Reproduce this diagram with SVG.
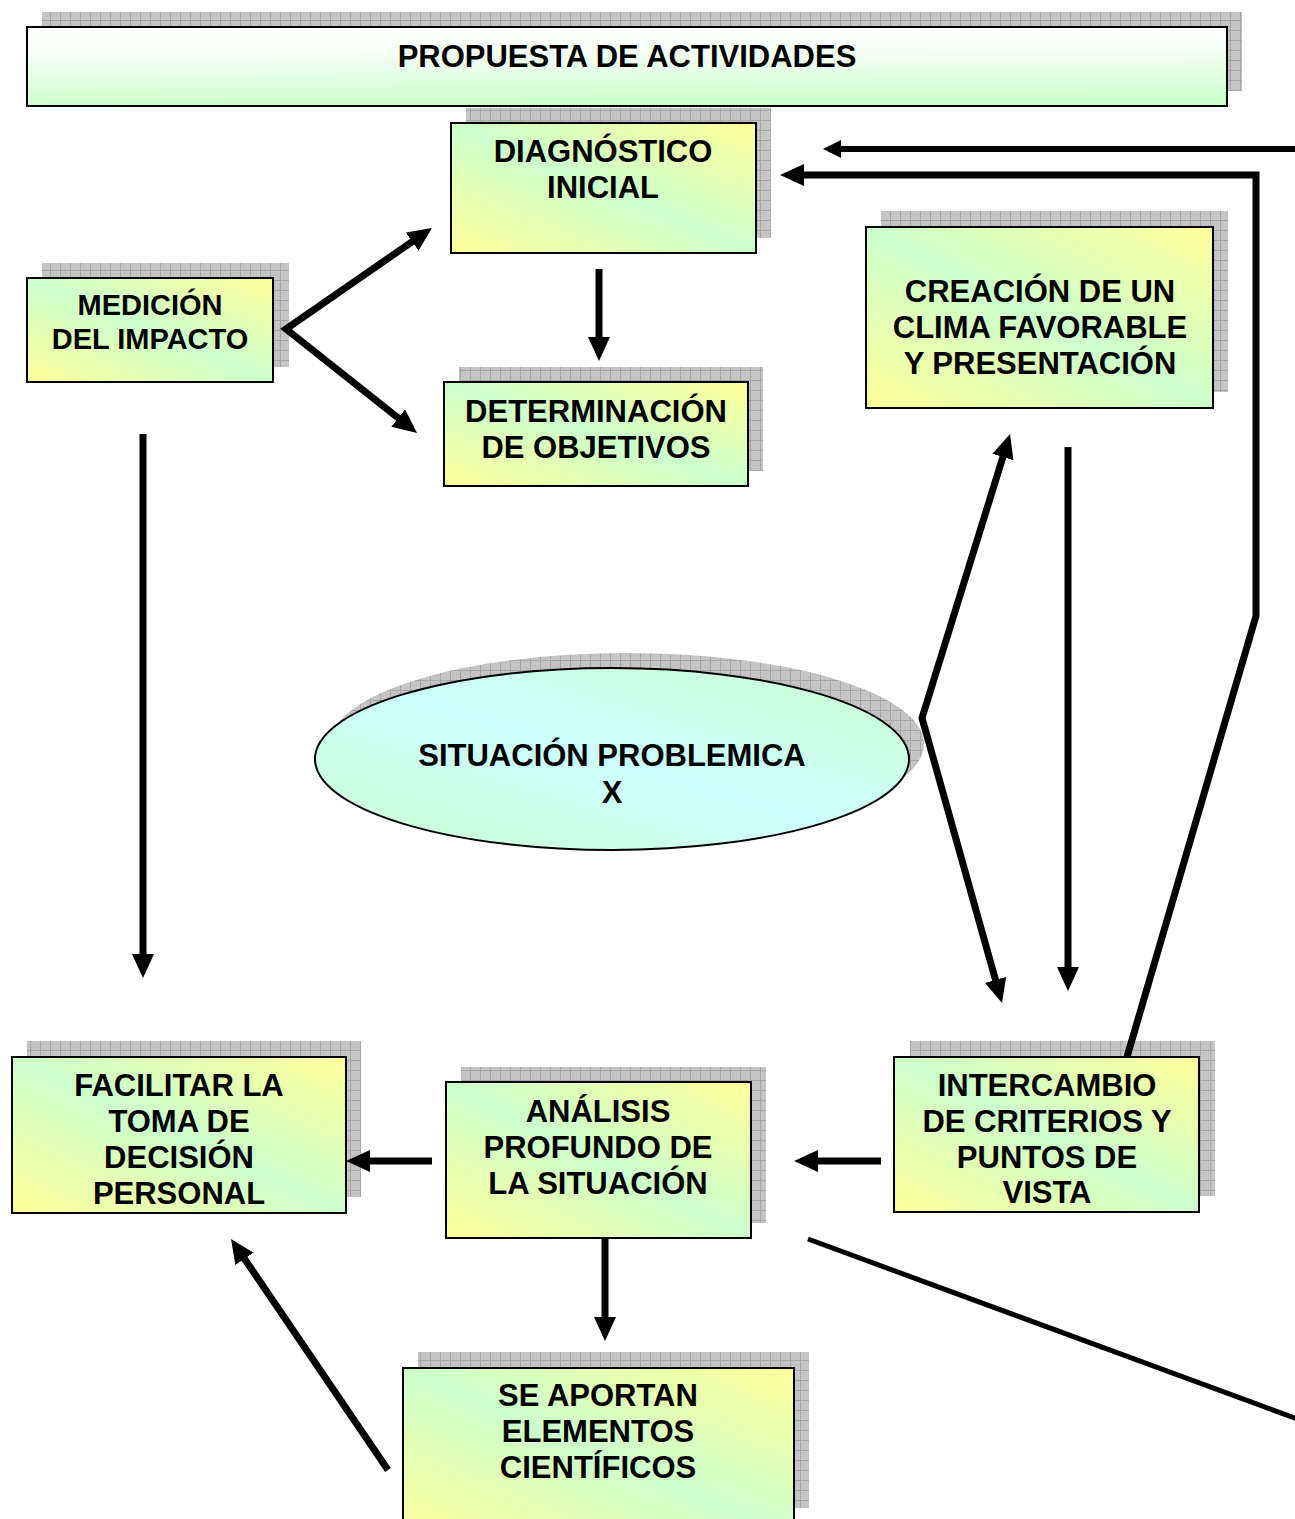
<svg xmlns="http://www.w3.org/2000/svg" width="1295" height="1519" viewBox="0 0 1295 1519">
<defs>
  <pattern id="grid" patternUnits="userSpaceOnUse" width="10" height="10">
    <rect width="10" height="10" fill="#c4c4c4"/>
    <path d="M0,0.5H10M0.5,0V10" stroke="#a6a6a6" stroke-width="1" fill="none"/>
  </pattern>
  <linearGradient id="gBox" x1="1" y1="0" x2="0" y2="1">
    <stop offset="0" stop-color="#ffff99"/>
    <stop offset="0.5" stop-color="#ccffcc"/>
    <stop offset="1" stop-color="#ffff99"/>
  </linearGradient>
  <linearGradient id="gHead" x1="0" y1="0" x2="0.08" y2="1">
    <stop offset="0" stop-color="#ffffff"/>
    <stop offset="0.35" stop-color="#f6fff6"/>
    <stop offset="1" stop-color="#ccffcc"/>
  </linearGradient>
  <linearGradient id="gEll" x1="1" y1="0" x2="0" y2="1">
    <stop offset="0" stop-color="#ccffcc"/>
    <stop offset="0.5" stop-color="#ccffff"/>
    <stop offset="1" stop-color="#ccffcc"/>
  </linearGradient>
  <marker id="ah" markerUnits="userSpaceOnUse" viewBox="0 0 24 22" markerWidth="24" markerHeight="22" refX="8" refY="11" orient="auto-start-reverse">
    <path d="M0,0L24,11L0,22Z" fill="#000"/>
  </marker>
  <marker id="ahs" markerUnits="userSpaceOnUse" viewBox="0 0 18 18" markerWidth="18" markerHeight="18" refX="6" refY="9" orient="auto">
    <path d="M0,0L18,9L0,18Z" fill="#000"/>
  </marker>
</defs>
<style>
  .sh{fill:url(#grid);}
  .box{fill:url(#gBox);stroke:#000;stroke-width:2;}
  .t{font-family:"Liberation Sans",Arial,sans-serif;font-weight:bold;font-size:31px;fill:#000;text-anchor:middle;}
  .ts{font-size:29px;}
  .c{fill:none;stroke:#000;stroke-width:7;stroke-linejoin:miter;}
</style>

<g id="header">
  <rect class="sh" x="42" y="12" width="1200" height="79"/>
  <rect x="27" y="27" width="1200" height="79" fill="url(#gHead)" stroke="#000" stroke-width="2"/>
  <text class="t" x="627" y="67">PROPUESTA DE ACTIVIDADES</text>
</g>

<g id="diagnostico">
  <rect class="sh" x="466" y="108" width="305" height="130"/>
  <rect class="box" x="451" y="123" width="305" height="130"/>
  <text class="t" x="603" y="162">DIAGNÓSTICO</text>
  <text class="t" x="603" y="198">INICIAL</text>
</g>

<g id="medicion">
  <rect class="sh" x="42" y="263" width="247" height="104"/>
  <rect class="box" x="27" y="278" width="246" height="104"/>
  <text class="t ts" x="150" y="315">MEDICIÓN</text>
  <text class="t ts" x="150" y="349">DEL IMPACTO</text>
</g>

<g id="determinacion">
  <rect class="sh" x="459" y="367" width="304" height="104"/>
  <rect class="box" x="444" y="382" width="304" height="104"/>
  <text class="t" x="596" y="422">DETERMINACIÓN</text>
  <text class="t" x="596" y="458">DE OBJETIVOS</text>
</g>

<g id="creacion">
  <rect class="sh" x="881" y="211" width="347" height="181"/>
  <rect class="box" x="866" y="227" width="347" height="181"/>
  <text class="t" x="1040" y="302">CREACIÓN DE UN</text>
  <text class="t" x="1040" y="338">CLIMA FAVORABLE</text>
  <text class="t" x="1040" y="374">Y PRESENTACIÓN</text>
</g>

<g id="situacion">
  <ellipse class="sh" cx="627" cy="744" rx="297" ry="91"/>
  <ellipse cx="612" cy="759" rx="297" ry="91" fill="url(#gEll)" stroke="#000" stroke-width="2"/>
  <text class="t" x="612" y="766">SITUACIÓN PROBLEMICA</text>
  <text class="t" x="612" y="803">X</text>
</g>

<g id="facilitar">
  <rect class="sh" x="27" y="1041" width="334" height="156"/>
  <rect class="box" x="12" y="1057" width="334" height="156"/>
  <text class="t" x="179" y="1096">FACILITAR LA</text>
  <text class="t" x="179" y="1132">TOMA DE</text>
  <text class="t" x="179" y="1168">DECISIÓN</text>
  <text class="t" x="179" y="1204">PERSONAL</text>
</g>

<g id="analisis">
  <rect class="sh" x="461" y="1067" width="305" height="156"/>
  <rect class="box" x="446" y="1082" width="305" height="156"/>
  <text class="t" x="598" y="1122">ANÁLISIS</text>
  <text class="t" x="598" y="1158">PROFUNDO DE</text>
  <text class="t" x="598" y="1194">LA SITUACIÓN</text>
</g>

<g id="intercambio">
  <rect class="sh" x="910" y="1041" width="305" height="155"/>
  <rect class="box" x="894" y="1057" width="305" height="155"/>
  <text class="t" x="1047" y="1096">INTERCAMBIO</text>
  <text class="t" x="1047" y="1132">DE CRITERIOS Y</text>
  <text class="t" x="1047" y="1168">PUNTOS DE</text>
  <text class="t" x="1047" y="1203">VISTA</text>
</g>

<g id="aportan">
  <rect class="sh" x="418" y="1352" width="391" height="156"/>
  <rect class="box" x="403" y="1368" width="391" height="170"/>
  <text class="t" x="598" y="1406">SE APORTAN</text>
  <text class="t" x="598" y="1442">ELEMENTOS</text>
  <text class="t" x="598" y="1478">CIENTÍFICOS</text>
</g>

<g id="connectors">
  <path class="c" d="M418.8,237.1L286,329L404.5,423" marker-start="url(#ah)" marker-end="url(#ah)"/>
  <path class="c" d="M599,269V345" marker-end="url(#ah)"/>
  <path class="c" d="M143,434V962" marker-end="url(#ah)"/>
  <path class="c" style="stroke-width:6" d="M1300,149H835" marker-end="url(#ahs)"/>
  <path class="c" d="M1127,1057L1256,616V175H796" marker-end="url(#ah)"/>
  <path class="c" d="M1005.3,449.3L922,718L997.7,987.6" marker-start="url(#ah)" marker-end="url(#ah)"/>
  <path class="c" d="M1068,447V975" marker-end="url(#ah)"/>
  <path class="c" d="M881,1161H810" marker-end="url(#ah)"/>
  <path class="c" d="M432,1161H362" marker-end="url(#ah)"/>
  <path class="c" d="M605,1238V1325" marker-end="url(#ah)"/>
  <path class="c" d="M388,1470L240,1252.2" marker-end="url(#ah)"/>
  <path class="c" style="stroke-width:5" d="M808,1239L1300,1420"/>
</g>
</svg>
